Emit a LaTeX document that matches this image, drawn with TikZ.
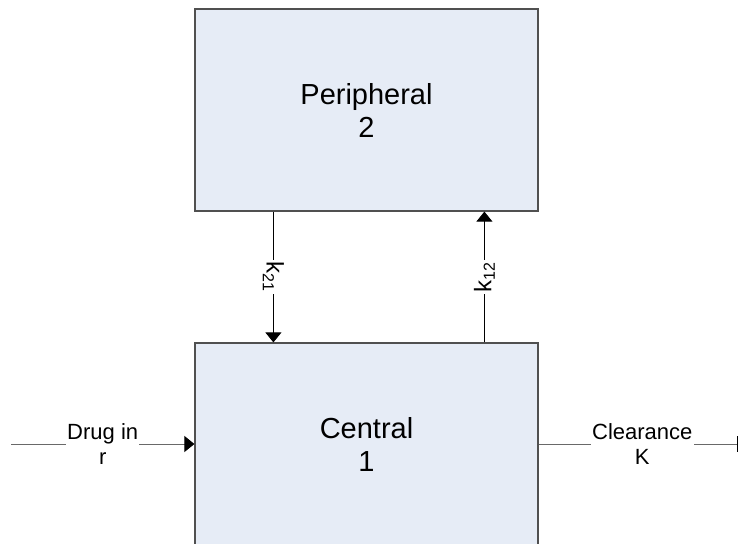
\documentclass[tikz,border=0pt]{standalone}
\usepackage{fontspec}
\setmainfont{Liberation Sans}
\usepackage{xcolor}
\usetikzlibrary{positioning,arrows.meta}

\definecolor{compfill}{RGB}{230,236,246}
\definecolor{compline}{RGB}{80,80,80}
\definecolor{flowline}{RGB}{105,105,105}

\begin{document}
\begin{tikzpicture}[
  x=0.5pt, y=-0.5pt,
  comp/.style={draw=compline, fill=compfill, line width=0.6pt, minimum width=171.5pt, minimum height=101pt, align=center, inner sep=0pt, font=\fontsize{14.5}{16.5}\selectfont},
  rate/.style={fill=white, inner sep=0.6pt, align=center, font=\fontsize{11}{12.3}\selectfont},
  const/.style={rate, font=\fontsize{12}{13}\selectfont},
  flow/.style={draw=flowline, line width=0.5pt},
  tip/.style={-{Triangle[width=8pt,length=5pt,color=black]}},
  bar/.style={-{Bar[width=8pt,color=black]}}
]
\useasboundingbox (0,0) rectangle (740,543);
\clip (0,0) rectangle (740,543);

% compartments
\node[comp] (periph) at (366.5,110) {Peripheral\\2};
\node[comp] (central) at (366.5,444) {Central\\1};

% transfer between them
\draw[tip, line width=0.5pt] ([xshift=39.5pt]periph.south west) -- node[const, rotate=-90] {k\textsubscript{21}} ([xshift=39.5pt]central.north west);
\draw[tip, line width=0.5pt] ([xshift=145pt]central.north west) -- node[const, rotate=90] {k\textsubscript{12}} ([xshift=145pt]periph.south west);

% dosing and elimination
\coordinate (drugsrc) at (11,444);
\coordinate (clearend) at (738,444);
\draw[flow, tip] (drugsrc) -- node[rate] {Drug in\\r} (central.west);
\draw[flow, bar] (central.east) -- node[rate, pos=0.52] {Clearance\\K} (clearend);

\end{tikzpicture}
\end{document}
